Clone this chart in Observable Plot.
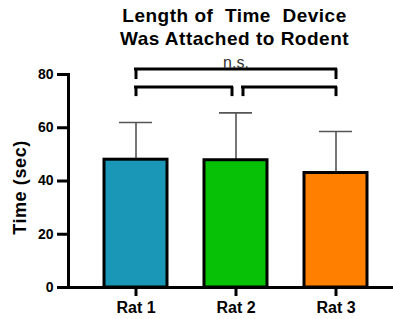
<!DOCTYPE html>
<html>
<head>
<meta charset="utf-8">
<script src="https://cdn.jsdelivr.net/npm/d3@7"></script>
<script src="https://cdn.jsdelivr.net/npm/@observablehq/plot@0.6"></script>
<style>
  html, body { margin: 0; padding: 0; background: #fff; }
  svg text { white-space: pre; }
  .title-text text { letter-spacing: 0.5px; }
  .ylab-text text { letter-spacing: 0.6px; }
</style>
</head>
<body>
<div id="chart"></div>
<script>
// ---- data ----
const rats = ["Rat 1", "Rat 2", "Rat 3"];
const means = [48.0, 47.8, 43.0];
const sds = [14.0, 17.8, 15.6];
const colors = ["#1a96b6", "#06c106", "#ff8000"];
const yTicks = [0, 20, 40, 60, 80];
const titleLines = ["Length of  Time  Device", "Was Attached to Rodent"];
const yLabel = "Time (sec)";
const sigLabel = "n.s.";
// bracket levels (y values): [horizontal, leg end]
const bracketOuter = [82.1, 78.1];
const bracketInner = [75.3, 71.7];

const data = rats.map((r, i) => ({rat: r, mean: means[i], sd: sds[i], upper: means[i] + sds[i]}));

const font = "'Liberation Sans', Arial, sans-serif";
const bw = 31.5; // half bandwidth in px (for bracket insets)

const chart = Plot.plot({
  width: 393,
  height: 319,
  marginLeft: 68,
  marginRight: 0,
  marginTop: 74,
  marginBottom: 32,
  style: {fontFamily: font, background: "#fff", overflow: "visible"},
  x: {domain: rats, paddingInner: 0.37, paddingOuter: 0.31, align: 0.573, label: null},
  y: {domain: [0, 80], label: null},
  color: {domain: rats, range: colors},
  marks: [
    // error whiskers (behind bars)
    Plot.ruleX(data, {x: "rat", y1: "mean", y2: "upper", stroke: "#555", strokeWidth: 1.6}),
    Plot.tickY(data, {x: "rat", y: "upper", stroke: "#555", strokeWidth: 1.6, insetLeft: 15, insetRight: 15}),
    Plot.barY(data, {x: "rat", y: "mean", fill: "rat", stroke: "#000", strokeWidth: 3}),
    // axes
    Plot.axisY({ticks: yTicks, tickSize: 11, tickPadding: 4, strokeWidth: 3, fontSize: 14, fontWeight: "bold", fill: "#000", label: null}),
    Plot.axisX({tickSize: 9, tickPadding: 5, strokeWidth: 3, fontSize: 16, fontWeight: "bold", fill: "#000", label: null}),
    Plot.frame({anchor: "left", strokeWidth: 3, stroke: "#000"}),
    Plot.frame({anchor: "bottom", strokeWidth: 3, stroke: "#000"}),
    // significance brackets
    Plot.ruleY([bracketOuter[0]], {x1: () => rats[0], x2: () => rats[2], insetLeft: bw - 1.5, insetRight: bw - 1.5, strokeWidth: 3}),
    Plot.ruleX([rats[0], rats[2]], {x: d => d, y1: bracketOuter[1], y2: bracketOuter[0], strokeWidth: 3}),
    Plot.ruleY([bracketInner[0]], {x1: () => rats[0], x2: () => rats[1], insetLeft: bw - 1.5, insetRight: bw + 4 - 1.5, strokeWidth: 3}),
    Plot.ruleX([rats[0]], {x: d => d, y1: bracketInner[1], y2: bracketInner[0], strokeWidth: 3}),
    Plot.ruleX([rats[1]], {x: d => d, dx: -4, y1: bracketInner[1], y2: bracketInner[0], strokeWidth: 3}),
    Plot.ruleY([bracketInner[0]], {x1: () => rats[1], x2: () => rats[2], insetLeft: bw + 7 - 1.5, insetRight: bw - 1.5, strokeWidth: 3}),
    Plot.ruleX([rats[1]], {x: d => d, dx: 7, y1: bracketInner[1], y2: bracketInner[0], strokeWidth: 3}),
    Plot.ruleX([rats[2]], {x: d => d, y1: bracketInner[1], y2: bracketInner[0], strokeWidth: 3}),
    Plot.text([sigLabel], {x: () => rats[1], y: bracketOuter[0], dy: -6.5, fontSize: 16, fill: "#333", text: d => d}),
    // y label
    Plot.text([yLabel], {frameAnchor: "left", textAnchor: "middle", lineAnchor: "middle", dx: -48, dy: 6.5, rotate: -90, fontSize: 18, fontWeight: "bold", fill: "#000", text: d => d, className: "ylab-text"}),
    // title
    Plot.text([titleLines.join("\n")], {frameAnchor: "top", textAnchor: "middle", lineAnchor: "middle", dx: 3.5, dy: -48.5, lineHeight: 1.25, fontSize: 19, fontWeight: "bold", fill: "#000", text: d => d, className: "title-text"})
  ]
});
document.getElementById("chart").appendChild(chart);
</script>
</body>
</html>
